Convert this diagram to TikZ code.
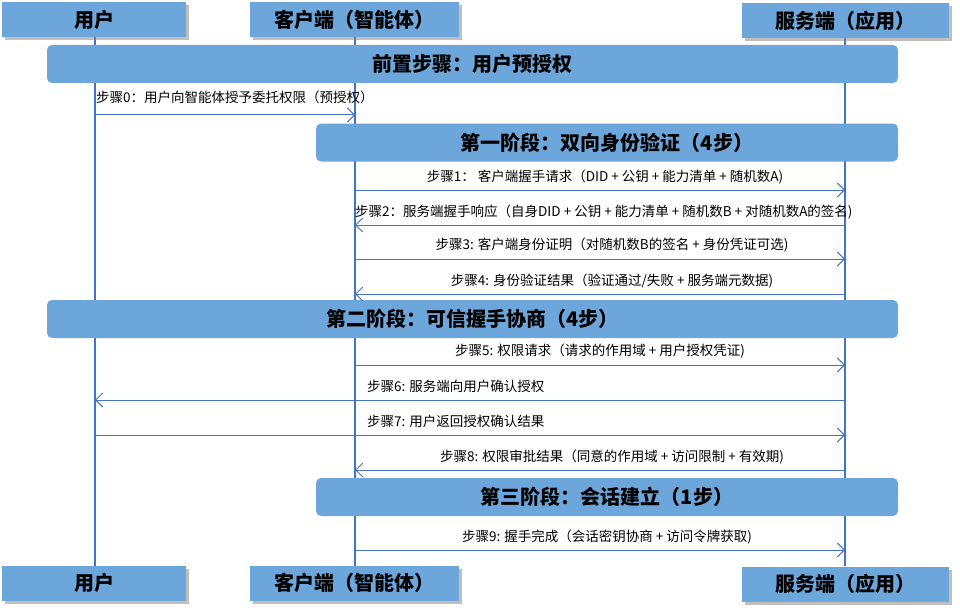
\documentclass[tikz,border=0pt]{standalone}
\usepackage{fontspec}
\setmainfont{Noto Sans CJK SC}
\usetikzlibrary{arrows.meta,shadows}
\definecolor{boxb}{HTML}{6CA6DA}
\definecolor{lineb}{HTML}{4472C4}
\tikzset{
 x=1pt,y=-1pt,
 head/.style={fill=boxb,draw=none,minimum height=35pt,inner sep=0pt,font=\bfseries\fontsize{20}{20}\selectfont,drop shadow={shadow xshift=3pt,shadow yshift=-3pt,opacity=0.5}},
 phase/.style={fill=boxb,draw=none,rounded corners=5pt,minimum height=38pt,inner sep=0pt,font=\bfseries\fontsize{20}{20}\selectfont},
 life/.style={lineb,line width=1.2pt},
 msg/.style={lineb,line width=1pt,-{Straight Barb[length=7pt,width=14pt]}},
 lbl/.style={font=\fontsize{13.5}{14}\selectfont,inner sep=0pt}
}
\begin{document}
\begin{tikzpicture}
\useasboundingbox (0,0) rectangle (960,615);
% lifelines
\coordinate (u0) at (95,37); \coordinate (u1) at (95,566);
\coordinate (c0) at (355,37); \coordinate (c1) at (355,566);
\coordinate (s0) at (845,37); \coordinate (s1) at (845,566);
\draw[life] (u0)--(u1); \draw[life] (c0)--(c1); \draw[life] (s0)--(s1);
% heads
\node[head,minimum width=184pt] (hu) at (94,19.5) {用户};
\node[head,minimum width=209pt] (hc) at (354.5,19.5) {客户端（智能体）};
\node[head,minimum width=207pt] (hs) at (845.5,21) {服务端（应用）};
\node[head,minimum width=184pt] (fu) at (94,583) {用户};
\node[head,minimum width=209pt] (fc) at (354.5,583) {客户端（智能体）};
\node[head,minimum width=207pt] (fs) at (845.5,584) {服务端（应用）};
% phases
\node[phase,minimum width=851pt] (p0) at (472.5,64) {前置步骤：用户预授权};
\node[phase,minimum width=582pt] (p1) at (607,142.5) {第一阶段：双向身份验证（4步）};
\node[phase,minimum width=851pt] (p2) at (472.5,319) {第二阶段：可信握手协商（4步）};
\node[phase,minimum width=582pt] (p3) at (607,497) {第三阶段：会话建立（1步）};
% messages
\foreach \n/\y in {0/115,1/190,2/225,3/259,4/294,5/365,6/400,7/435,8/470,9/550}{
 \coordinate (mu\n) at (95,\y); \coordinate (mc\n) at (355,\y); \coordinate (ms\n) at (845,\y);}
\draw[msg] (mu0)--(mc0);
\node[lbl,anchor=west] (l0) at (96,97) {步骤0：用户向智能体授予委托权限（预授权）};
\draw[msg] (mc1)--(ms1);
\node[lbl] (l1) at (605,177) {步骤1：\ 客户端握手请求（DID + 公钥 + 能力清单 + 随机数A)};
\draw[msg] (ms2)--(mc2);
\node[lbl,anchor=west] (l2) at (355,212) {步骤2：服务端握手响应（自身DID + 公钥 + 能力清单 + 随机数B + 对随机数A的签名)};
\draw[msg] (mc3)--(ms3);
\node[lbl] (l3) at (612,245) {步骤3: 客户端身份证明（对随机数B的签名 + 身份凭证可选)};
\draw[msg] (ms4)--(mc4);
\node[lbl] (l4) at (612,281) {步骤4: 身份验证结果（验证通过/失败 + 服务端元数据)};
\draw[msg] (mc5)--(ms5);
\node[lbl] (l5) at (600,351) {步骤5: 权限请求（请求的作用域 + 用户授权凭证)};
\draw[msg] (ms6)--(mu6);
\node[lbl,anchor=west] (l6) at (367,386) {步骤6: 服务端向用户确认授权};
\draw[msg] (mu7)--(ms7);
\node[lbl,anchor=west] (l7) at (367,421) {步骤7: 用户返回授权确认结果};
\draw[msg] (ms8)--(mc8);
\node[lbl] (l8) at (612,457) {步骤8: 权限审批结果（同意的作用域 + 访问限制 + 有效期)};
\draw[msg] (mc9)--(ms9);
\node[lbl] (l9) at (607,537) {步骤9: 握手完成（会话密钥协商 + 访问令牌获取)};
\end{tikzpicture}
\end{document}
